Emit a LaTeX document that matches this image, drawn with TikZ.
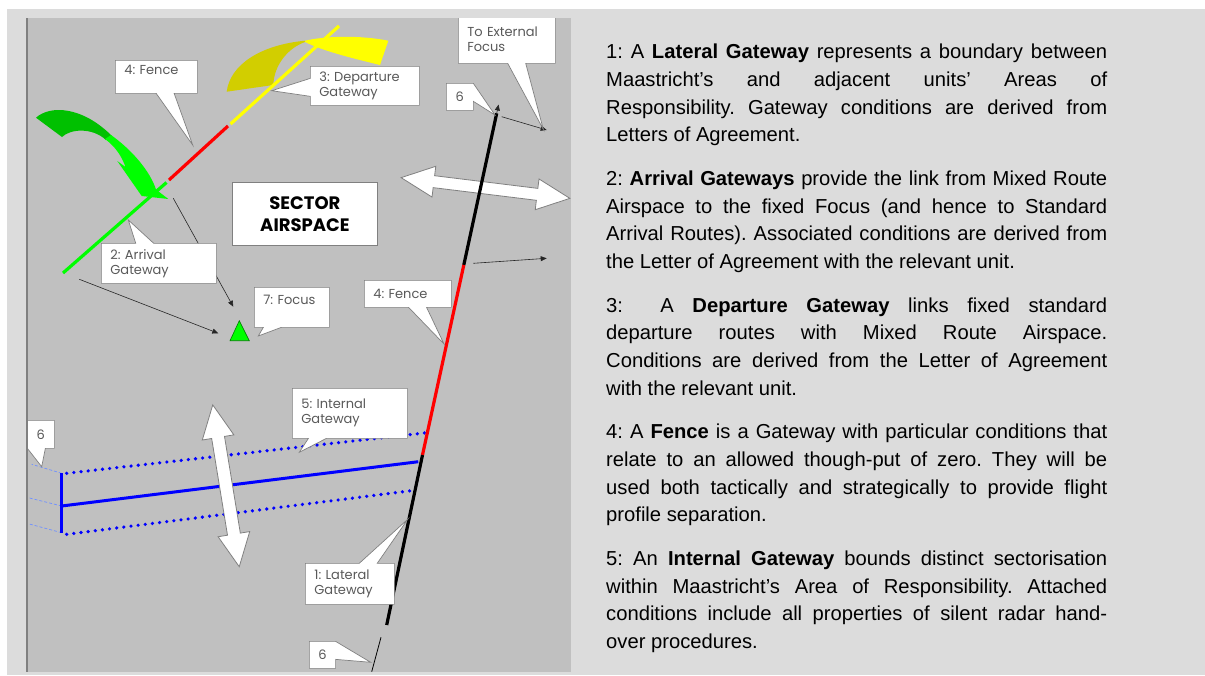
\documentclass[tikz,border=0pt]{standalone}
\usepackage{fontspec}
\setmainfont{Liberation Sans}
\newfontfamily\gothic{Poppins}
\usepackage{xcolor}
\usepackage{tikz}
\usetikzlibrary{arrows.meta,calc,positioning,shapes.callouts}
\definecolor{pagegray}{HTML}{DCDCDC}
\definecolor{panelgray}{HTML}{C0C0C0}
\definecolor{framegray}{HTML}{808080}
\definecolor{arrivalgreen}{HTML}{00FF00}
\definecolor{arrivaldark}{HTML}{00C000}
\definecolor{departyellow}{HTML}{FFFF00}
\definecolor{departolive}{HTML}{D2CE00}
\definecolor{fencered}{HTML}{FF0000}
\definecolor{internalblue}{HTML}{0000FF}
\definecolor{ghostblue}{HTML}{7090FF}
\tikzset{>={Triangle[length=6pt,width=5pt]}}
\frenchspacing

\begin{document}
\begin{tikzpicture}[x=1pt,y=-1pt]

	% Definitions.
	\tikzstyle{every node}=[inner sep=0pt]
	\tikzstyle{bubble}=[
		rectangle callout, draw=framegray, fill=white, line width=0.7pt,
		callout pointer width=18pt, anchor=north west,
		inner xsep=9pt, inner ysep=0pt, align=left, text=black!65,
		font={\gothic\fontsize{13}{15}\selectfont}
	]
	\tikzstyle{gateway}=[line width=3.2pt]
	\tikzstyle{pointer}=[->, line width=0.6pt, color=black!85]
	\tikzstyle{bigarrow}=[draw=framegray, fill=white, line width=0.8pt]
	\def\DotGap{7.2pt};

	% ---------- Page and Panel ---------

	\useasboundingbox (0,0) rectangle (1205,675);
	\fill[white] (0,0) rectangle (1205,675);
	\fill[pagegray] (7,9) rectangle (1205,675);
	\fill[panelgray] (27,18) rectangle (571,672);

	\begin{scope}
	\clip (27,18) rectangle (571,672);

	% ------------ Internal Gateway -----------

	\coordinate (intTop) at (61.7,473.3);
	\coordinate (intMid) at (61.7,506);
	\coordinate (intBot) at (61.7,532.7);
	\draw[ghostblue, line width=0.7pt, dash pattern=on 3pt off 2pt] (intTop) -- (31.7,464.3);
	\draw[ghostblue, line width=0.7pt, dash pattern=on 3pt off 2pt] (intMid) -- (26.7,497.3);
	\draw[ghostblue, line width=0.7pt, dash pattern=on 3pt off 2pt] (intBot) -- (26.7,523.3);
	\draw[internalblue, line width=3.6pt, line cap=round, dash pattern=on 0pt off \DotGap] (66.7,473.3) -- (426.7,432.7);
	\draw[internalblue, line width=3.6pt, line cap=round, dash pattern=on 0pt off \DotGap] (66.7,534.3) -- (416.7,490);
	\draw[internalblue, line width=3pt] (intTop) -- (intBot);
	\draw[internalblue, line width=3pt] (intMid) -- (418.3,461.7);

	% ------------ Arrival and Departure Flows -----------

	\fill[arrivaldark] (36,117.7) .. controls (50,105) and (82,106) .. (112,136)
		-- (106,140) .. controls (92,127) and (70,129) .. (62,137) -- cycle;
	\fill[arrivalgreen] (111,135) .. controls (132,150) and (150,171) .. (156,189.5)
		-- (168.3,199) -- (141.7,196) -- (117.3,161) -- (125.5,167)
		.. controls (122,157) and (116,147) .. (105,139) -- cycle;

	\fill[departolive] (226.7,91.7) .. controls (230,65) and (260,45) .. (305,40.7)
		-- (305,42) .. controls (288,48) and (274,65) .. (273.3,85) -- cycle;
	\fill[departyellow] (305,40.7) .. controls (325,36) and (360,35) .. (388.3,40.7)
		-- (380,65) .. controls (360,60) and (325,52) .. (305,42) -- cycle;

	% ------------ Gateway Line (Arrival / Fence / Departure) -----------

	\coordinate (arrStart) at (63,273);
	\coordinate (arrEnd) at (166.5,182.5);
	\coordinate (fenceStart) at (169,180);
	\coordinate (fenceEnd) at (228,126);
	\coordinate (depStart) at (230.5,124);
	\coordinate (depEnd) at (339,26);
	\draw[gateway, arrivalgreen] (arrStart) -- (arrEnd);
	\draw[gateway, fencered] (fenceStart) -- (fenceEnd);
	\draw[gateway, departyellow] (depStart) -- (depEnd);

	% ------------ Focus -----------

	\coordinate (focus) at (239.5,334);
	\draw[fill=arrivalgreen, draw=green!50!black, line width=0.6pt]
		(230,340.7) -- (249.3,340.7) -- (239.3,320.7) -- cycle;

	% ------------ Double Arrows -----------

	\begin{scope}[shift={(485.5,188)}, rotate=-7]
	\draw[bigarrow] (-85,0) -- (-52,-15.5) -- (-52,-6) -- (52,-6) -- (52,-15.5) -- (85,0)
		-- (52,15.5) -- (52,6) -- (-52,6) -- (-52,15.5) -- cycle;
	\end{scope}
	\begin{scope}[shift={(226,485.8)}, rotate=99.3]
	\draw[bigarrow] (-82,0) -- (-49,-16) -- (-49,-6.5) -- (49,-6.5) -- (49,-16) -- (82,0)
		-- (49,16) -- (49,6.5) -- (-49,6.5) -- (-49,16) -- cycle;
	\end{scope}

	% ------------ Lateral Gateway -----------

	\coordinate (latTop) at (496.7,113.3);
	\coordinate (latFenceA) at (463.8,265);
	\coordinate (latFenceB) at (422.5,455);
	\coordinate (latBot) at (386.7,625);
	\draw[gateway, black] (latTop) -- (latFenceA);
	\draw[gateway, fencered] (latFenceA) -- (latFenceB);
	\draw[gateway, black] (latFenceB) -- (latBot);
	\draw[black, line width=0.8pt] (381,637.3) -- (371.7,671.7);
	\draw[pointer] (latTop) -- (498.6,104.5);

	% ------------ Thin Pointers -----------

	\coordinate (arrFoot) at (79.3,279.3);
	\coordinate (arrHead) at (173.3,198.3);
	\coordinate (latSide) at (473.3,263.3);
	\coordinate (latNear) at (501.7,116.7);
	\coordinate (outFocus) at (546.7,130);
	\coordinate (outSide) at (546.7,258.3);
	\draw[pointer] (arrFoot) -- (218.3,333.3);
	\draw[pointer] (arrHead) -- (233.3,306.7);
	\draw[pointer] (latSide) -- (outSide);
	\draw[pointer] (latNear) -- (outFocus);

	% ------------ Callouts -----------

	\node[bubble, minimum height=33pt, text width=64pt,
		callout absolute pointer={(192.7,145)}] (fenceNoteA) at (115,60) {4: Fence\\\mbox{}};
	\node[bubble, minimum height=39pt, text width=91pt,
		callout absolute pointer={(271.7,90.7)}] (departNote) at (310,66) {3: Departure\\Gateway};
	\node[bubble, minimum height=49pt, text width=79pt,
		callout absolute pointer={(543.3,129.3)}] (externalNote) at (458,14) {To External\\Focus};
	\node[bubble, minimum width=27pt, minimum height=27pt, align=center,
		callout absolute pointer={(495,115)}] (sixTop) at (446,83) {6};
	\node[bubble, minimum height=27pt, text width=69pt,
		callout absolute pointer={(444,344)}] (fenceNoteB) at (364,280) {4: Fence};
	\node[bubble, minimum height=40pt, text width=57pt,
		callout absolute pointer={(258.3,336)}] (focusNote) at (254,287) {7: Focus\\\mbox{}};
	\node[bubble, minimum height=40pt, text width=97pt,
		callout absolute pointer={(128.3,220)}] (arrivalNote) at (101,243) {2: Arrival\\Gateway};
	\node[bubble, minimum height=50pt, text width=97pt,
		callout absolute pointer={(299.3,452.3)}] (internalNote) at (292,388) {5: Internal\\Gateway};
	\node[bubble, minimum width=27pt, minimum height=28pt, align=center,
		callout absolute pointer={(41.7,466.7)}] (sixLeft) at (27,420) {6};
	\node[bubble, minimum height=41pt, text width=71pt,
		callout absolute pointer={(407.7,519.3)}] (lateralNote) at (305,563) {1: Lateral\\Gateway};
	\node[bubble, minimum width=26pt, minimum height=27pt, align=center,
		callout absolute pointer={(370.7,662.3)}] (sixBottom) at (309,641) {6};

	\node[draw=framegray, fill=white, line width=0.8pt, anchor=north west,
		minimum width=145pt, minimum height=63pt, align=center,
		font={\gothic\bfseries\fontsize{18}{22}\selectfont}] (sector) at (232,182) {SECTOR\\AIRSPACE};

	\end{scope}
	\draw[framegray, line width=1.5pt] (27,18) -- (27,672);

	% ------------ Legend -----------

	\node[anchor=north west, text width=501pt, align=justify,
		font={\fontsize{20.2pt}{27.7pt}\selectfont}] (legend) at (606,43.8) {%
		\setlength{\parskip}{15.9pt}\setlength{\parindent}{0pt}%
		\tolerance=10000\relax\hyphenpenalty=10000\relax
		1: A \textbf{Lateral Gateway} represents a boundary between\linebreak
		Maastricht’s and adjacent units’ Areas of\linebreak
		Responsibility. Gateway conditions are derived from\linebreak
		Letters of Agreement.\par
		2: \textbf{Arrival Gateways} provide the link from Mixed Route\linebreak
		Airspace to the fixed Focus (and hence to Standard\linebreak
		Arrival Routes). Associated conditions are derived from\linebreak
		the Letter of Agreement with the relevant unit.\par
		3:\ \ A \textbf{Departure Gateway} links fixed standard\linebreak
		departure routes with Mixed Route Airspace.\linebreak
		Conditions are derived from the Letter of Agreement\linebreak
		with the relevant unit.\par
		4: A \textbf{Fence} is a Gateway with particular conditions that\linebreak
		relate to an allowed though-put of zero. They will be\linebreak
		used both tactically and strategically to provide flight\linebreak
		profile separation.\par
		5: An \textbf{Internal Gateway} bounds distinct sectorisation\linebreak
		within Maastricht’s Area of Responsibility. Attached\linebreak
		conditions include all properties of silent radar hand-\linebreak
		over procedures.};

\end{tikzpicture}
\end{document}
